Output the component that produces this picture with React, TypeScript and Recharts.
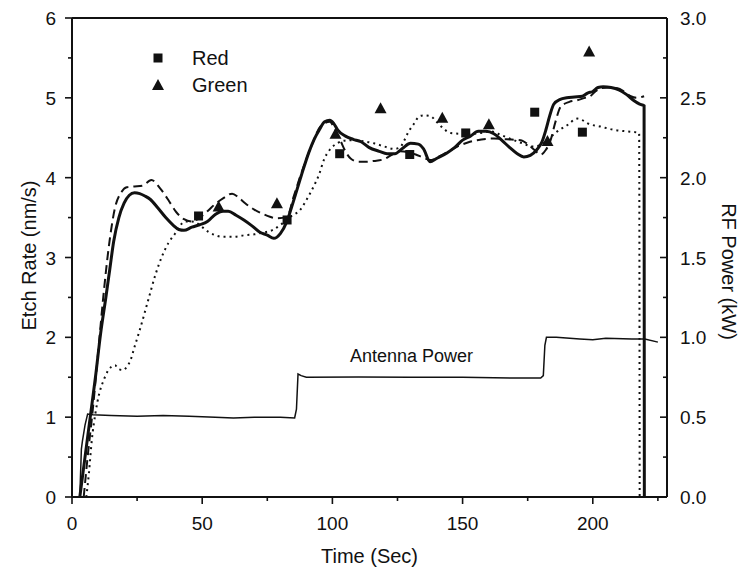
import React from 'react';
import { ComposedChart, Line, Scatter, XAxis, YAxis, ReferenceLine, ReferenceDot, Legend } from 'recharts';

const INK = '#111';
const FONT = '"Liberation Sans", Arial, Helvetica, sans-serif';

// ---- data (time in s, etch rate in nm/s, RF power in kW) ----
const solidEtch: [number, number][] = [
  [3, 0], [5, 0.5], [7, 1.0], [9, 1.5], [11, 2.05], [13, 2.5], [14.5, 2.85], [16, 3.2], [18, 3.5], [20, 3.68],
  [22, 3.78], [24, 3.81], [26, 3.8], [28, 3.77], [30, 3.73], [33, 3.62], [36, 3.5], [39, 3.4], [41, 3.35], [43, 3.34],
  [46, 3.38], [49, 3.41], [52, 3.45], [55, 3.54], [58, 3.58], [60, 3.58], [63, 3.53], [66, 3.47], [69, 3.4], [72, 3.32],
  [75, 3.28], [77.5, 3.24], [80, 3.3], [82.5, 3.45], [85, 3.7], [88, 4.02], [91, 4.32], [93, 4.48], [95, 4.6], [97, 4.7],
  [99, 4.72], [100.5, 4.68], [102, 4.6], [105, 4.52], [108, 4.48], [111, 4.45], [114, 4.38], [118, 4.33], [121, 4.3],
  [124, 4.3], [127, 4.37], [130, 4.43], [133, 4.42], [135, 4.36], [137.5, 4.2], [140, 4.24], [144, 4.31], [147, 4.38],
  [150, 4.47], [153, 4.52], [156, 4.58], [159, 4.58], [162, 4.55], [165, 4.47], [168, 4.38], [171, 4.3], [173.5, 4.26],
  [176, 4.28], [178.5, 4.35], [180.5, 4.45], [182, 4.6], [183.5, 4.78], [185, 4.92], [187.5, 4.98], [190, 5.0],
  [193, 5.01], [196, 5.02], [198, 5.06], [200, 5.08], [202, 5.13], [204, 5.14], [207, 5.13], [210, 5.1], [213, 5.04],
  [216, 4.96], [218, 4.92], [219.7, 4.9], [219.8, 0],
];

const dashedEtch: [number, number][] = [
  [4.5, 0], [6, 0.5], [8, 1.1], [10, 1.8], [12, 2.5], [14, 3.1], [16.5, 3.62], [19, 3.82], [21, 3.88], [24, 3.89],
  [27, 3.9], [30.5, 3.97], [34, 3.86], [37, 3.72], [40, 3.57], [43, 3.48], [46, 3.45], [49, 3.5], [52, 3.58],
  [55, 3.67], [58, 3.74], [61.5, 3.8], [64, 3.75], [66.5, 3.68], [70, 3.6], [73, 3.55], [76, 3.51], [78.7, 3.49],
  [82.6, 3.51], [85, 3.75], [88, 4.05], [92, 4.4], [95.4, 4.64], [99, 4.7], [101, 4.6], [103, 4.47], [105, 4.33],
  [107, 4.24], [110, 4.2], [113, 4.2], [116, 4.21], [119.7, 4.23], [123, 4.29], [126, 4.33], [129, 4.32], [132, 4.29],
  [135, 4.25], [137.7, 4.22], [140, 4.25], [143, 4.3], [148, 4.39], [152, 4.44], [155.6, 4.47], [162, 4.49],
  [167, 4.48], [172.3, 4.47], [175, 4.42], [177.5, 4.35], [180, 4.29], [182, 4.35], [183.8, 4.47], [185.5, 4.68],
  [187.7, 4.89], [191, 4.95], [194, 4.97], [197, 5.0], [199, 5.02], [201, 5.08], [203, 5.12], [206, 5.13],
  [209.5, 5.12], [212, 5.08], [214.6, 5.02], [217, 5.0], [219.7, 5.02],
];

const dottedEtch: [number, number][] = [
  [5.5, 0], [6.5, 0.3], [7.6, 0.71], [9, 1.05], [10.5, 1.3], [12, 1.45], [14, 1.59], [16.5, 1.65], [18, 1.6],
  [19.7, 1.59], [21, 1.63], [22.3, 1.7], [24.2, 1.9], [26, 2.09], [29.3, 2.47], [32, 2.78], [34.5, 3.01], [37, 3.18],
  [39.6, 3.3], [41.5, 3.4], [43.5, 3.45], [46, 3.45], [48, 3.43], [50, 3.38], [52.4, 3.32], [55, 3.28], [57.6, 3.26],
  [62, 3.26], [66.5, 3.28], [70, 3.29], [73, 3.31], [77.4, 3.35], [80.5, 3.42], [83.8, 3.51], [87.7, 3.6], [90, 3.72],
  [92.8, 3.89], [95, 4.05], [96.7, 4.22], [99, 4.35], [101.8, 4.43], [104, 4.46], [107, 4.47], [111, 4.46],
  [116, 4.43], [120, 4.39], [123.6, 4.36], [126, 4.38], [127.5, 4.46], [129, 4.56], [131, 4.66], [133.5, 4.77],
  [135, 4.78], [137.7, 4.77], [140, 4.7], [142.5, 4.62], [145.4, 4.56], [150, 4.55], [154, 4.55], [157, 4.56],
  [160.8, 4.58], [165, 4.53], [169.7, 4.47], [173, 4.43], [177.3, 4.39], [180, 4.41], [182.6, 4.47], [186, 4.57],
  [190.3, 4.66], [194, 4.74], [196, 4.72], [198, 4.68], [203, 4.64], [208, 4.6], [213, 4.58], [217.8, 4.56], [218, 0],
];

const antennaPower: [number, number][] = [
  [3, 0], [3.6, 0.3], [4, 0.35], [5, 0.45], [6, 0.52], [8, 0.515], [15, 0.51], [25, 0.505], [35, 0.51], [45, 0.505],
  [55, 0.5], [62, 0.495], [70, 0.5], [80, 0.5], [85.5, 0.495], [86.2, 0.55], [86.8, 0.77], [88, 0.76], [90, 0.75],
  [110, 0.752], [130, 0.75], [150, 0.75], [170, 0.745], [180, 0.745], [181, 0.76], [181.6, 0.95], [182.2, 1.0],
  [186, 1.0], [195, 0.99], [200, 0.985], [205, 0.995], [215, 0.99], [220, 0.99], [225, 0.97],
];

const redPoints: [number, number][] = [
  [48.6, 3.52], [82.6, 3.47], [102.8, 4.3], [129.7, 4.29], [151.2, 4.56], [177.7, 4.82], [196, 4.57],
];

const greenPoints: [number, number][] = [
  [56.3, 3.64], [78.7, 3.68], [101.2, 4.55], [118.5, 4.87], [142.2, 4.75], [160.1, 4.67], [182.6, 4.46], [198.6, 5.58],
];

const legendOrder = ['Red', 'Green'];
const xTicks = [0, 25, 50, 75, 100, 125, 150, 175, 200, 225];
const leftTicks = [0, 0.5, 1, 1.5, 2, 2.5, 3, 3.5, 4, 4.5, 5, 5.5, 6];
const rightTicks = [0, 0.25, 0.5, 0.75, 1, 1.25, 1.5, 1.75, 2, 2.25, 2.5, 2.75, 3];
const antennaLabelAt = { t: 130.4, kw: 0.883, text: 'Antenna Power' };

const toPts = (arr: [number, number][]) => arr.map(([t, v]) => ({ t, v }));

// ---- layout ----
const W = 740;
const H = 569;
const M = { top: 18, right: 13, bottom: 0, left: 12 };
const AXIS_W = 60;
const X_H = 72;
const PLOT = {
  left: M.left + AXIS_W,
  right: W - M.right - AXIS_W,
  top: M.top,
  bottom: H - M.bottom - X_H,
};

const XTick = (p: any) => {
  const { x, y, payload } = p;
  const major = payload.value % 50 === 0;
  return (
    <g>
      <line x1={x} x2={x} y1={y} y2={y + (major ? 7 : 4)} stroke={INK} strokeWidth={1.6} />
      {major && (
        <text x={x} y={y + 33} textAnchor="middle" fontSize={19} fill={INK}>
          {payload.value}
        </text>
      )}
    </g>
  );
};

const LeftTick = (p: any) => {
  const { x, y, payload } = p;
  const major = Number.isInteger(payload.value);
  return (
    <g>
      <line x1={x - (major ? 7 : 4)} x2={x} y1={y} y2={y} stroke={INK} strokeWidth={1.6} />
      {major && (
        <text x={x - 16} y={y + 7} textAnchor="end" fontSize={19} fill={INK}>
          {payload.value}
        </text>
      )}
    </g>
  );
};

const RightTick = (p: any) => {
  const { x, y, payload } = p;
  const major = Math.abs(payload.value * 2 - Math.round(payload.value * 2)) < 1e-9;
  return (
    <g>
      <line x1={x - (major ? 7 : 4)} x2={x} y1={y} y2={y} stroke={INK} strokeWidth={1.6} />
      {major && (
        <text x={x + 13} y={y + 7} textAnchor="start" fontSize={19} fill={INK}>
          {payload.value.toFixed(1)}
        </text>
      )}
    </g>
  );
};

const XTitle = () => {
  const cx = (PLOT.left + PLOT.right) / 2;
  const cy = PLOT.bottom + 59;
  return (
    <text x={cx} y={cy} textAnchor="middle" dominantBaseline="central" fontSize={20} fill={INK}>
      Time (Sec)
    </text>
  );
};

const LeftTitle = () => {
  const cx = 29;
  const cy = (PLOT.top + PLOT.bottom) / 2 - 2;
  return (
    <text x={cx} y={cy} transform={`rotate(-90 ${cx} ${cy})`} textAnchor="middle" dominantBaseline="central" fontSize={20} fill={INK}>
      Etch Rate (nm/s)
    </text>
  );
};

const RightTitle = () => {
  const cx = 729;
  const cy = (PLOT.top + PLOT.bottom) / 2 + 14;
  return (
    <text x={cx} y={cy} transform={`rotate(90 ${cx} ${cy})`} textAnchor="middle" dominantBaseline="central" fontSize={20} fill={INK}>
      RF Power (kW)
    </text>
  );
};

const SquareShape = (p: any) => {
  const { cx, cy } = p;
  if (cx == null || cy == null) return null;
  return <rect x={cx - 4.5} y={cy - 4.5} width={9} height={9} fill={INK} />;
};

const TriangleShape = (p: any) => {
  const { cx, cy } = p;
  if (cx == null || cy == null) return null;
  return <polygon points={`${cx},${cy - 6} ${cx + 6},${cy + 5} ${cx - 6},${cy + 5}`} fill={INK} />;
};

const LegendContent = (props: any) => {
  const fromPayload = props && props.payload && props.payload.length
    ? props.payload.map((e: any) => ({ name: e.value, type: e.type })).filter((e: any) => e.type !== 'none')
    : [];
  const items = (fromPayload.length ? fromPayload : [{ name: 'Red', type: 'square' }, { name: 'Green', type: 'triangle' }])
    .slice()
    .sort((a: any, b: any) => legendOrder.indexOf(a.name) - legendOrder.indexOf(b.name));
  return (
    <svg width={140} height={70} style={{ display: 'block', overflow: 'visible' }}>
      {items.map((e: any, i: number) => {
        const cy = 18 + i * 27;
        return (
          <g key={e.name}>
            {e.type === 'triangle' ? (
              <polygon points={`18,${cy - 6} 24,${cy + 5} 12,${cy + 5}`} fill={INK} />
            ) : (
              <rect x={13.5} y={cy - 4.5} width={9} height={9} fill={INK} />
            )}
            <text x={52} y={cy + 6.5} fontSize={20} fill={INK}>
              {e.name}
            </text>
          </g>
        );
      })}
    </svg>
  );
};

export default function App() {
  return (
    <div style={{ position: 'absolute', left: 0, top: 0, width: W, height: H, background: '#fff', fontFamily: FONT }}>
      <ComposedChart width={W} height={H} margin={M}>
        <XAxis
          dataKey="t"
          type="number"
          domain={[0, 228.5]}
          ticks={xTicks}
          interval={0}
          tick={(p: any) => <XTick {...p} />}
          tickLine={false}
          tickSize={0}
          tickMargin={0}
          axisLine={{ stroke: INK, strokeWidth: 2 }}
          height={X_H}
          allowDataOverflow
          label={() => <XTitle />}
        />
        <YAxis
          yAxisId="left"
          dataKey="v"
          type="number"
          domain={[0, 6]}
          ticks={leftTicks}
          interval={0}
          tick={(p: any) => <LeftTick {...p} />}
          tickLine={false}
          tickSize={0}
          tickMargin={0}
          axisLine={{ stroke: INK, strokeWidth: 2 }}
          width={AXIS_W}
          allowDataOverflow
          label={() => <LeftTitle />}
        />
        <YAxis
          yAxisId="right"
          orientation="right"
          dataKey="v"
          type="number"
          domain={[0, 3]}
          ticks={rightTicks}
          interval={0}
          tick={(p: any) => <RightTick {...p} />}
          tickLine={false}
          tickSize={0}
          tickMargin={0}
          axisLine={{ stroke: INK, strokeWidth: 2 }}
          width={AXIS_W}
          allowDataOverflow
          label={() => <RightTitle />}
        />
        <ReferenceLine yAxisId="left" y={6} stroke={INK} strokeWidth={2} />
        <Legend
          layout="horizontal"
          verticalAlign="middle"
          align="center"
          wrapperStyle={{ position: 'absolute', left: 140, top: 40, width: 140, height: 70 }}
          content={(p: any) => <LegendContent {...p} />}
        />
        <Line yAxisId="right" data={toPts(antennaPower)} dataKey="v" type="linear" stroke={INK} strokeWidth={1.5} dot={false} activeDot={false} legendType="none" isAnimationActive={false} />
        <Line yAxisId="left" data={toPts(dottedEtch)} dataKey="v" type="monotone" stroke={INK} strokeWidth={2} strokeDasharray="2 4" dot={false} activeDot={false} legendType="none" isAnimationActive={false} />
        <Line yAxisId="left" data={toPts(dashedEtch)} dataKey="v" type="monotone" stroke={INK} strokeWidth={2} strokeDasharray="9 5" dot={false} activeDot={false} legendType="none" isAnimationActive={false} />
        <Line yAxisId="left" data={toPts(solidEtch)} dataKey="v" type="monotone" stroke={INK} strokeWidth={3} dot={false} activeDot={false} legendType="none" isAnimationActive={false} />
        <Scatter name="Red" yAxisId="left" data={toPts(redPoints)} dataKey="v" fill={INK} shape={(p: any) => <SquareShape {...p} />} legendType="square" isAnimationActive={false} />
        <Scatter name="Green" yAxisId="left" data={toPts(greenPoints)} dataKey="v" fill={INK} shape={(p: any) => <TriangleShape {...p} />} legendType="triangle" isAnimationActive={false} />
        <ReferenceDot
          yAxisId="right"
          x={antennaLabelAt.t}
          y={antennaLabelAt.kw}
          r={0}
          fill="none"
          stroke="none"
          label={{ value: antennaLabelAt.text, position: 'center', fontSize: 18, fill: INK }}
        />
      </ComposedChart>
    </div>
  );
}
